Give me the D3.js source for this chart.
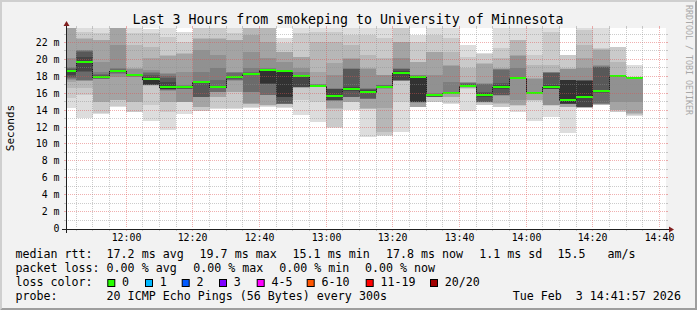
<!DOCTYPE html>
<html>
<head>
<meta charset="utf-8">
<script src="https://cdn.jsdelivr.net/npm/d3@7/dist/d3.min.js"></script>
<style>
  body { margin: 0; background: #f2f2f2; }
  svg text { font-family: "DejaVu Sans Mono", monospace; fill: #000; white-space: pre; }
</style>
</head>
<body>
<div id="chart"></div>
<script>
// 5 minute steps, start of each step
var stepStarts = ["11:40","11:45","11:50","11:55","12:00","12:05","12:10","12:15","12:20","12:25",
  "12:30","12:35","12:40","12:45","12:50","12:55","13:00","13:05","13:10","13:15",
  "13:20","13:25","13:30","13:35","13:40","13:45","13:50","13:55","14:00","14:05",
  "14:10","14:15","14:20","14:25","14:30"];

// median rtt per step (ms)
var medianRtt = [18.61, 19.67, 17.86, 18.57, 18.09, 17.66, 16.64, 16.64, 17.31, 16.71,
  17.86, 18.21, 18.75, 18.57, 18.02, 16.83, 15.65, 16.48, 16.08, 16.67,
  18.33, 17.90, 15.73, 15.96, 16.83, 15.73, 16.67, 17.78, 15.96, 16.67,
  15.18, 15.49, 16.20, 18.02, 17.78];

// 20 sorted pings per step (ms)
var pings = [
  [14.15, 15.33, 16.52, 17.23, 17.5, 17.58, 17.7, 17.9, 18.09, 18.49, 18.65, 18.72, 18.85, 18.95, 19.08, 20.07, 24.5, 25, 25.5, 26],
  [13.05, 15.73, 16.52, 17.35, 17.4, 17.45, 17.5, 18.4, 18.6, 19.6, 19.75, 20.2, 20.8, 20.9, 21.0, 21.05, 22.4, 22.5, 23.22, 24.5],
  [13.44, 13.56, 14.9, 14.94, 17.6, 17.62, 17.65, 17.7, 17.75, 17.8, 17.95, 18.0, 18.1, 18.2, 18.4, 19.67, 22.2, 22.24, 23.03, 24.5],
  [14.35, 14.4, 15.1, 15.14, 17.9, 18.2, 18.3, 18.4, 18.45, 18.5, 18.65, 18.7, 18.75, 18.8, 18.9, 21.64, 23.9, 24.2, 24.6, 25],
  [13.68, 13.76, 14.9, 14.94, 17.9, 17.92, 17.95, 17.98, 18.0, 18.05, 18.12, 18.14, 18.16, 18.18, 18.2, 18.85, 18.88, 21.64, 23.03, 24.3],
  [12.65, 14.54, 16.85, 16.87, 16.89, 16.91, 16.93, 16.95, 16.97, 16.99, 17.75, 17.9, 18.09, 18.29, 18.49, 18.69, 20.07, 21.45, 23.03, 23.54],
  [11.59, 13.76, 14.9, 14.94, 16.25, 16.3, 16.35, 16.4, 16.45, 16.5, 16.8, 17.3, 17.7, 18.0, 18.2, 18.29, 20.4, 20.46, 22.63, 24.2],
  [13.44, 14.85, 14.88, 14.9, 14.94, 16.4, 16.45, 16.5, 16.55, 16.58, 16.7, 16.75, 16.8, 16.85, 16.91, 18.49, 20.6, 20.66, 22.04, 23.22],
  [13.8, 13.83, 14.3, 14.35, 15.46, 15.48, 15.5, 15.53, 17.2, 17.25, 17.32, 17.33, 17.34, 17.35, 18.49, 21.05, 22.4, 22.43, 24.0, 24.5],
  [14.1, 14.15, 15.5, 15.53, 16.08, 16.1, 16.12, 16.6, 16.65, 16.7, 16.72, 16.73, 16.75, 17.5, 18.88, 20.46, 22.4, 22.43, 24.0, 24.5],
  [14.07, 14.15, 16.1, 16.12, 17.4, 17.45, 17.5, 17.6, 17.7, 17.8, 17.9, 17.95, 18.0, 18.3, 18.4, 18.49, 22.2, 22.24, 23.03, 24.3],
  [14.23, 14.35, 14.68, 14.7, 14.74, 16.1, 16.12, 18.05, 18.1, 18.15, 18.25, 18.28, 18.35, 18.5, 18.88, 20.86, 22.83, 24.2, 24.6, 25],
  [14.3, 14.45, 14.5, 14.54, 15.68, 15.7, 15.73, 17.05, 17.08, 17.11, 18.78, 18.8, 18.82, 18.85, 18.88, 20.07, 22.04, 24.2, 24.6, 25],
  [14.25, 14.35, 14.64, 14.66, 14.68, 14.7, 14.72, 14.74, 15.5, 15.53, 18.6, 18.62, 18.64, 18.66, 18.69, 19.67, 20.8, 20.86, 21.84, 22.43],
  [13.36, 15.14, 16.6, 16.61, 16.63, 16.65, 16.67, 16.69, 16.71, 17.98, 18.04, 18.05, 18.07, 18.09, 18.5, 18.88, 20.2, 20.26, 23.03, 24.3],
  [12.57, 14.94, 16.64, 16.66, 16.68, 16.7, 16.72, 16.74, 16.76, 16.78, 16.88, 16.9, 16.92, 16.95, 16.98, 17.0, 18.49, 22.04, 23.22, 24.2],
  [11.86, 11.98, 14.12, 14.15, 15.06, 15.08, 15.1, 15.12, 15.14, 15.55, 15.75, 16.46, 16.48, 16.5, 16.52, 18.09, 19.48, 22.04, 23.22, 24.2],
  [13.95, 14.88, 14.9, 14.94, 15.46, 15.48, 15.5, 15.53, 16.2, 16.3, 16.6, 16.71, 18.8, 18.85, 18.88, 20.0, 20.07, 21.64, 22.83, 24.3],
  [10.8, 14.05, 14.1, 14.15, 15.26, 15.28, 15.3, 15.33, 15.95, 16.0, 16.15, 16.3, 16.45, 16.5, 16.52, 18.85, 18.88, 20.46, 22.83, 24.3],
  [10.9, 10.99, 11.39, 14.15, 16.5, 16.52, 16.54, 16.56, 16.58, 16.6, 16.75, 16.8, 16.85, 16.88, 16.91, 18.05, 18.09, 20.07, 22.43, 24.3],
  [11.4, 14.94, 17.38, 17.4, 17.42, 17.44, 17.46, 17.48, 17.5, 18.25, 18.4, 18.6, 18.8, 18.85, 18.88, 20.07, 22.0, 22.04, 24.0, 24.5],
  [14.3, 14.31, 14.33, 14.35, 14.84, 14.86, 14.88, 14.9, 14.92, 14.94, 17.94, 17.97, 18.0, 18.02, 18.05, 18.09, 19.6, 19.67, 22.04, 22.83],
  [14.9, 14.94, 15.47, 15.48, 15.49, 15.5, 15.51, 15.53, 15.58, 15.6, 15.77, 15.8, 15.85, 15.9, 15.93, 18.09, 20.8, 20.86, 22.83, 24.3],
  [14.7, 14.74, 15.5, 15.53, 15.82, 15.84, 15.86, 15.88, 15.9, 15.92, 16.0, 16.04, 16.08, 16.12, 17.31, 19.2, 19.28, 20.86, 22.43, 24.3],
  [13.9, 16.5, 16.55, 16.6, 16.63, 16.66, 16.7, 16.73, 16.76, 16.78, 16.9, 16.95, 17.0, 17.1, 17.2, 17.25, 17.31, 18.88, 20.26, 21.64],
  [14.5, 14.54, 14.84, 14.86, 14.88, 14.9, 14.92, 14.94, 15.5, 15.6, 15.85, 16.0, 16.12, 17.0, 17.05, 17.11, 19.4, 19.48, 20.6, 20.66],
  [14.3, 14.35, 14.72, 14.74, 15.66, 15.68, 15.7, 15.73, 16.4, 16.55, 16.8, 16.9, 17.11, 18.75, 18.8, 18.85, 18.88, 20.07, 21.25, 24.3],
  [13.7, 14.48, 14.5, 14.54, 15.14, 17.66, 17.68, 17.7, 17.72, 17.75, 17.82, 17.85, 17.88, 17.9, 18.88, 20.4, 20.46, 22.2, 22.24, 24.3],
  [12.65, 15.08, 15.1, 15.14, 15.8, 15.82, 15.84, 15.86, 15.88, 15.9, 16.0, 16.03, 16.06, 16.1, 16.12, 17.65, 17.7, 19.28, 20.46, 24.3],
  [13.17, 14.48, 14.5, 14.52, 14.54, 16.44, 16.46, 16.48, 16.5, 16.55, 16.8, 16.91, 18.3, 18.35, 18.4, 18.45, 18.49, 19.28, 23.22, 24.3],
  [11.2, 14.3, 14.33, 14.35, 14.64, 14.66, 14.68, 14.7, 14.72, 14.74, 17.46, 17.47, 17.48, 17.49, 17.5, 18.84, 18.86, 18.88, 20.44, 20.46],
  [14.2, 14.22, 14.24, 14.26, 14.28, 14.3, 14.31, 14.33, 14.35, 15.4, 17.42, 17.44, 17.46, 17.48, 17.5, 18.88, 20.07, 21.64, 23.42, 24.3],
  [14.55, 14.58, 14.61, 14.64, 14.67, 14.7, 14.74, 16.0, 16.05, 16.1, 16.25, 16.32, 19.0, 19.1, 19.2, 19.28, 21.1, 21.2, 21.25, 24.3],
  [13.68, 13.7, 13.93, 13.95, 14.94, 17.86, 17.88, 17.9, 17.92, 17.95, 18.03, 18.04, 18.05, 18.06, 18.07, 18.08, 18.09, 19.67, 21.4, 21.45],
  [13.3, 13.36, 13.5, 13.56, 14.94, 17.62, 17.64, 17.66, 17.68, 17.7, 17.79, 17.8, 17.81, 17.82, 17.83, 17.84, 17.86, 17.88, 17.9, 19.28]
];

var yTicks = [0, 2, 4, 6, 8, 10, 12, 14, 16, 18, 20, 22];
var yTickLabels = ["0", "2 m", "4 m", "6 m", "8 m", "10 m", "12 m", "14 m", "16 m", "18 m", "20 m", "22 m"];
var xTickLabels = ["12:00", "12:20", "12:40", "13:00", "13:20", "13:40", "14:00", "14:20", "14:40"];

var smokeGreys = ["#dddddd", "#cacaca", "#b7b7b7", "#a4a4a4", "#919191",
  "#7e7e7e", "#6b6b6b", "#585858", "#454545", "#323232"];
var lossLabels = ["0", "1", "2", "3", "4-5", "6-10", "11-19", "20/20"];
var lossColors = ["#26ff00", "#00b8ff", "#0059ff", "#7e00ff", "#ff00ff", "#ff5500", "#ff0000", "#a00000"];

var rttLegend = ["17.2 ms avg", "19.7 ms max", "15.1 ms min", "17.8 ms now", "1.1 ms sd", "15.5", "am/s"];
var lossLegend = ["0.00 % avg", "0.00 % max", "0.00 % min", "0.00 % now"];
var probeText = "20 ICMP Echo Pings (56 Bytes) every 300s";
var stampText = "Tue Feb  3 14:41:57 2026";
var titleText = "Last 3 Hours from smokeping to University of Minnesota";

// layout
var W = 697, H = 310;
var plotL = 66, plotT = 28, pw = 600, ph = 200;
var rttX = [106.6, 199.6, 292.6, 386, 479.3, 557.6, 607.6];
var lossX = [106.6, 193.3, 279.3, 365];
var swatchX = [107.3, 145, 181.7, 219, 256.7, 306.7, 365.7, 430];

function at(hm, s) {
  var p = hm.split(":");
  return new Date(2026, 1, 3, +p[0], +p[1], s || 0);
}

var x = d3.scaleTime()
  .domain([at("11:41", 57), at("14:41", 57)])
  .range([plotL, plotL + pw]);
var y = d3.scaleLinear()
  .domain([0, 23.66])
  .range([plotT + ph, plotT]);

var svg = d3.select("#chart").append("svg")
  .attr("width", W)
  .attr("height", H);

// frame
svg.append("rect").attr("width", W).attr("height", H).attr("fill", "#f2f2f2");
svg.append("path").attr("fill", "#cfcfcf")
  .attr("d", "M0,0H" + W + "L" + (W - 2) + ",2H2V" + (H - 2) + "L0," + H + "Z");
svg.append("path").attr("fill", "#9e9e9e")
  .attr("d", "M" + W + ",0V" + H + "H0L2," + (H - 2) + "H" + (W - 2) + "V2Z");

svg.append("rect")
  .attr("x", plotL).attr("y", plotT)
  .attr("width", pw).attr("height", ph + 1)
  .attr("fill", "#fff");

svg.append("clipPath").attr("id", "plotclip")
  .append("rect")
  .attr("x", plotL).attr("y", plotT)
  .attr("width", pw).attr("height", ph);

var plot = svg.append("g")
  .attr("clip-path", "url(#plotclip)")
  .attr("shape-rendering", "crispEdges");

// smoke
for (var i = 0; i < stepStarts.length; i++) {
  var t0 = at(stepStarts[i]);
  var t1 = d3.timeMinute.offset(t0, 5);
  var x0 = Math.round(x(t0)), x1 = Math.round(x(t1));
  var p = pings[i];
  for (var k = 0; k < 10; k++) {
    var hi = Math.round(y(p[19 - k])), lo = Math.round(y(p[k]));
    plot.append("rect")
      .attr("x", x0)
      .attr("y", hi)
      .attr("width", x1 - x0)
      .attr("height", Math.max(lo - hi, 1))
      .attr("fill", smokeGreys[k]);
  }
}

// median: dark step line then loss coloured band
var medPts = stepStarts.map(function(s, i) { return [x(at(s)), Math.round(y(medianRtt[i])) + 0.5]; });
medPts.push([x(d3.timeMinute.offset(at(stepStarts[stepStarts.length - 1]), 5)), medPts[medPts.length - 1][1]]);
plot.append("path")
  .attr("d", d3.line().curve(d3.curveStepAfter)(medPts))
  .attr("fill", "none")
  .attr("stroke", "#202020")
  .attr("stroke-width", 1);

for (var m = 0; m < stepStarts.length; m++) {
  var a0 = at(stepStarts[m]);
  var mx0 = Math.round(x(a0)), mx1 = Math.round(x(d3.timeMinute.offset(a0, 5)));
  plot.append("rect")
    .attr("x", mx0)
    .attr("y", Math.round(y(medianRtt[m])) - 1)
    .attr("width", mx1 - mx0)
    .attr("height", 2)
    .attr("fill", lossColors[0]);
}

// grid, dotted, drawn over the smoke
var gridCol = "rgba(143,143,143,0.45)", mgridCol = "rgba(222,79,79,0.45)";
var grid = svg.append("g");
for (var v = 1; v < 24; v++) {
  var gy = Math.round(y(v)) + 0.5;
  var major = v % 2 === 0;
  grid.append("line")
    .attr("x1", plotL).attr("x2", plotL + pw)
    .attr("y1", gy).attr("y2", gy)
    .attr("stroke", major ? mgridCol : gridCol)
    .attr("stroke-dasharray", "1,1");
  grid.append("line")
    .attr("x1", plotL - 2).attr("x2", plotL)
    .attr("y1", gy).attr("y2", gy)
    .attr("stroke", major ? mgridCol : gridCol);
  grid.append("line")
    .attr("x1", plotL + pw).attr("x2", plotL + pw + 2)
    .attr("y1", gy).attr("y2", gy)
    .attr("stroke", major ? mgridCol : gridCol);
}
var vt = d3.timeMinute.every(5).range(x.domain()[0], x.domain()[1]);
vt.forEach(function(t) {
  var gx = Math.floor(x(t)) + 0.5;
  var major = t.getMinutes() % 20 === 0;
  grid.append("line")
    .attr("x1", gx).attr("x2", gx)
    .attr("y1", plotT).attr("y2", plotT + ph)
    .attr("stroke", major ? mgridCol : gridCol)
    .attr("stroke-dasharray", "1,1");
  grid.append("line")
    .attr("x1", gx).attr("x2", gx)
    .attr("y1", plotT + ph + 1).attr("y2", plotT + ph + 3)
    .attr("stroke", major ? mgridCol : gridCol);
  grid.append("line")
    .attr("x1", gx).attr("x2", gx)
    .attr("y1", plotT - 2).attr("y2", plotT)
    .attr("stroke", major ? mgridCol : gridCol);
});

// axes with arrows
var axisCol = "#1f1f1f", arrowCol = "#801f1f";
var axY = plotT + ph + 1.5;
svg.append("line")
  .attr("x1", plotL - 4).attr("x2", plotL + pw + 4)
  .attr("y1", axY).attr("y2", axY)
  .attr("stroke", axisCol).attr("shape-rendering", "crispEdges");
svg.append("line")
  .attr("x1", plotL + 0.5).attr("x2", plotL + 0.5)
  .attr("y1", axY + 3).attr("y2", plotT - 4)
  .attr("stroke", axisCol).attr("shape-rendering", "crispEdges");
svg.append("path").attr("fill", arrowCol)
  .attr("d", "M" + (plotL + pw + 3) + "," + (axY - 3) + "L" + (plotL + pw + 8) + "," + axY +
    "L" + (plotL + pw + 3) + "," + (axY + 3) + "Z");
svg.append("path").attr("fill", arrowCol)
  .attr("d", "M" + (plotL - 2.5) + "," + (plotT - 2) + "L" + (plotL + 0.5) + "," + (plotT - 7) +
    "L" + (plotL + 3.5) + "," + (plotT - 2) + "Z");

// tick labels
svg.append("g").selectAll("text")
  .data(yTicks)
  .enter().append("text")
  .attr("x", plotL - 6.5)
  .attr("y", function(d) { return Math.round(y(d)) + 4; })
  .attr("text-anchor", "end")
  .style("font-size", "9.9px")
  .text(function(d, i) { return yTickLabels[i]; });

svg.append("g").selectAll("text")
  .data(xTickLabels)
  .enter().append("text")
  .attr("x", function(d) { return Math.floor(x(at(d))) + 0.5; })
  .attr("y", 241)
  .attr("text-anchor", "middle")
  .style("font-size", "9.9px")
  .text(function(d) { return d; });

// titles
svg.append("text")
  .attr("x", 348).attr("y", 23.8)
  .attr("text-anchor", "middle")
  .style("font-size", "13.25px")
  .text(titleText);

svg.append("text")
  .attr("transform", "translate(14," + (plotT + ph / 2) + ") rotate(-90)")
  .attr("text-anchor", "middle")
  .style("font-size", "11px")
  .text("Seconds");

svg.append("text")
  .attr("transform", "translate(685.5,5) rotate(90)")
  .style("font-size", "8.3px")
  .style("fill", "#a8a8a8")
  .text("RRDTOOL / TOBI OETIKER");

// legend
var lg = svg.append("g").style("font-size", "11.65px");
lg.append("text").attr("x", 15.4).attr("y", 258.3).text("median rtt:");
rttLegend.forEach(function(s, i) {
  lg.append("text").attr("x", rttX[i]).attr("y", 258.3).text(s);
});
lg.append("text").attr("x", 15.4).attr("y", 272).text("packet loss:");
lossLegend.forEach(function(s, i) {
  lg.append("text").attr("x", lossX[i]).attr("y", 272).text(s);
});
lg.append("text").attr("x", 15.4).attr("y", 286.3).text("loss color:");
lossLabels.forEach(function(s, i) {
  lg.append("rect")
    .attr("x", swatchX[i] + 0.5).attr("y", 279.5)
    .attr("width", 7).attr("height", 7)
    .attr("fill", lossColors[i])
    .attr("stroke", "#000");
  lg.append("text").attr("x", swatchX[i] + 14.7).attr("y", 286.3).text(s);
});
lg.append("text").attr("x", 15.4).attr("y", 299.8).text("probe:");
lg.append("text").attr("x", 106.6).attr("y", 299.8).text(probeText);
lg.append("text").attr("x", 512.7).attr("y", 299.8).text(stampText);
</script>
</body>
</html>
